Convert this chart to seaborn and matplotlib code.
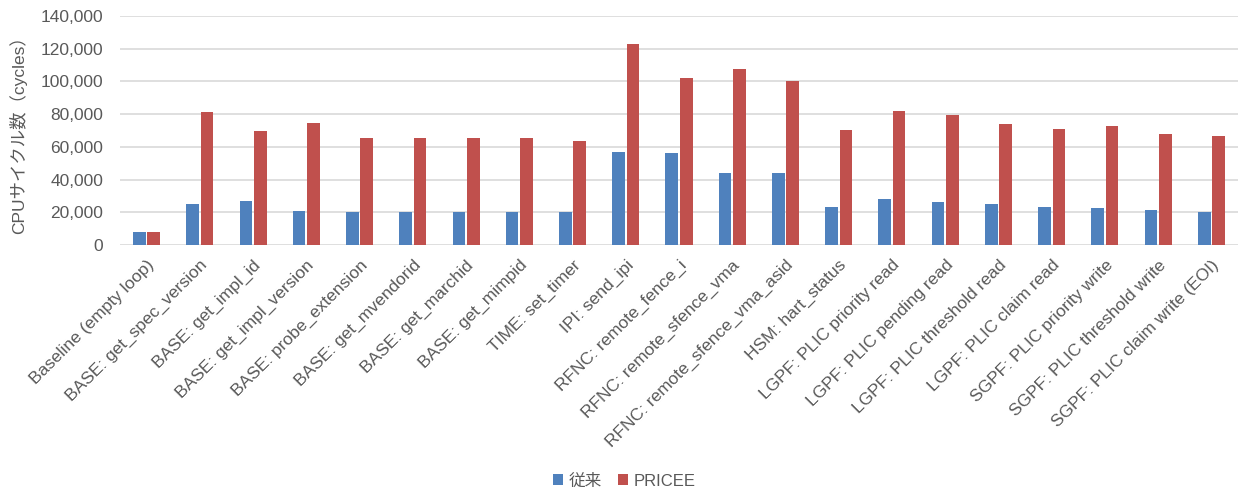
import numpy as np
import pandas as pd
import matplotlib
matplotlib.use("Agg")
import matplotlib.pyplot as plt
import seaborn as sns
from matplotlib.ticker import FuncFormatter
from matplotlib.patches import Patch

categories = [
    "Baseline (empty loop)",
    "BASE: get_spec_version",
    "BASE: get_impl_id",
    "BASE: get_impl_version",
    "BASE: probe_extension",
    "BASE: get_mvendorid",
    "BASE: get_marchid",
    "BASE: get_mimpid",
    "TIME: set_timer",
    "IPI: send_ipi",
    "RFNC: remote_fence_i",
    "RFNC: remote_sfence_vma",
    "RFNC: remote_sfence_vma_asid",
    "HSM: hart_status",
    "LGPF: PLIC priority read",
    "LGPF: PLIC pending read",
    "LGPF: PLIC threshold read",
    "LGPF: PLIC claim read",
    "SGPF: PLIC priority write",
    "SGPF: PLIC threshold write",
    "SGPF: PLIC claim write (EOI)",
]
legacy = [8200, 25300, 26900, 20800, 20400, 20200, 20400, 20000, 20200,
          57000, 56400, 44200, 43800, 23000, 28300, 26300, 25200, 23000,
          22600, 21200, 20000]
pricee = [8200, 81400, 69600, 74700, 65700, 65500, 65300, 65300, 63700,
          122900, 102100, 107400, 100500, 70400, 82000, 79600, 74100, 71200,
          72800, 68000, 66700]
series_names = ["従来", "PRICEE"]
colors = ["#4F81BD", "#C0504D"]

df = pd.DataFrame({
    "category": categories * 2,
    "value": legacy + pricee,
    "series": [series_names[0]] * len(categories) + [series_names[1]] * len(categories),
})

sns.set_theme(style="white")
plt.rcParams["font.family"] = ["Liberation Sans", "Noto Sans CJK JP"]
text_color = "#595959"
fs = 12.5

fig = plt.figure(figsize=(12.39, 4.95), dpi=100)
ax = fig.add_axes([120 / 1239, 1 - 245 / 495, 1118 / 1239, 229 / 495])

sns.barplot(data=df, x="category", y="value", hue="series", order=categories,
            hue_order=series_names, palette=colors, width=0.54, gap=0.12,
            saturation=1, ax=ax, legend=False, errorbar=None,
            edgecolor="none", linewidth=0)

ax.set_ylim(0, 140000)
ax.set_xlim(-0.5, len(categories) - 0.5)
ax.set_yticks(np.arange(0, 140001, 20000))
ax.yaxis.set_major_formatter(FuncFormatter(lambda v, p: f"{int(v):,}"))
ax.grid(axis="y", color="#D9D9D9", linewidth=1.2)
ax.set_axisbelow(True)
for s in ax.spines.values():
    s.set_visible(False)
ax.tick_params(axis="both", length=0, colors=text_color, labelsize=fs)
ax.tick_params(axis="y", pad=12)
ax.set_xlabel("")
ax.set_ylabel("CPUサイクル数（cycles）", color=text_color, fontsize=fs, labelpad=10)
plt.setp(ax.get_xticklabels(), rotation=45, ha="right", rotation_mode="anchor")
ax.tick_params(axis="x", pad=9)

handles = [Patch(facecolor=c, edgecolor="none") for c in colors]
fig.legend(handles, series_names, loc="center", bbox_to_anchor=(0.504, 1 - 481 / 495),
           ncol=2, frameon=False, fontsize=12, labelcolor=text_color,
           handlelength=0.6, handleheight=0.6, handletextpad=0.3, columnspacing=1.0)

fig.savefig("out.png", dpi=100)
